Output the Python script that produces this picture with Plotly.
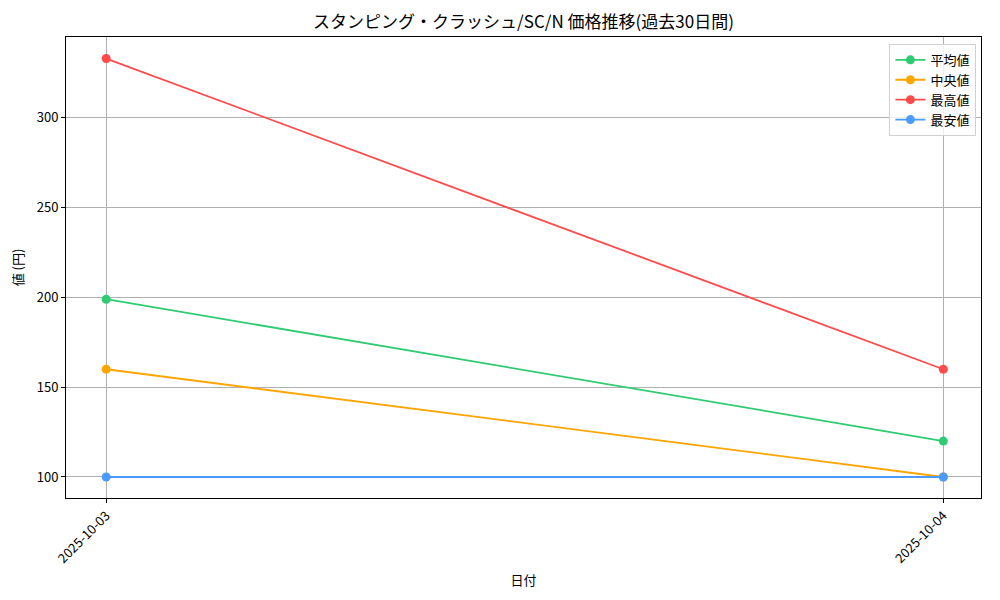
import plotly.graph_objects as go

dates = ["2025-10-03", "2025-10-04"]
avg_price = [199, 120]
median_price = [160, 100]
max_price = [333, 160]
min_price = [100, 100]

series = [
    ("平均値", avg_price, "#2ECC71"),
    ("中央値", median_price, "#FFA500"),
    ("最高値", max_price, "#FF4B4B"),
    ("最安値", min_price, "#4A9BFF"),
]

FONT = "Noto Sans CJK JP"

fig = go.Figure()
for name, vals, color in series:
    fig.add_trace(go.Scatter(
        x=[0, 1],
        y=vals,
        mode="lines+markers",
        name=name,
        line=dict(color=color, width=1.8),
        marker=dict(color=color, size=9),
    ))

axis_common = dict(
    showline=True,
    linecolor="black",
    linewidth=1,
    mirror=True,
    ticks="outside",
    ticklen=4,
    tickcolor="black",
    showgrid=True,
    gridcolor="#b0b0b0",
    gridwidth=1,
    zeroline=False,
    automargin=False,
    tickfont=dict(size=13, color="black"),
)

fig.update_xaxes(
    **axis_common,
    range=[-0.048, 1.045],
    tickvals=[0, 1],
    ticktext=dates,
    tickangle=-45,
    title=dict(text="日付", font=dict(size=13, color="black"), standoff=10),
)
fig.update_yaxes(
    **axis_common,
    range=[88.3, 345],
    tickvals=[100, 150, 200, 250, 300],
    title=dict(text="値 (円)", font=dict(size=13, color="black"), standoff=14),
)

# page body adds ~8px offset, so margins are shifted to compensate
fig.update_layout(
    width=1000,
    height=600,
    paper_bgcolor="white",
    plot_bgcolor="white",
    font=dict(family=FONT, color="black"),
    margin=dict(l=58, r=27, t=29, b=110),
    title=dict(
        text="スタンピング・クラッシュ/SC/N 価格推移(過去30日間)",
        xref="paper",
        x=0.5,
        xanchor="center",
        y=0.977,
        yanchor="middle",
        font=dict(size=17, color="black"),
    ),
    legend=dict(
        x=0.995,
        y=0.985,
        xanchor="right",
        yanchor="top",
        bgcolor="rgba(255,255,255,0.8)",
        bordercolor="#d0d0d0",
        borderwidth=1,
        font=dict(size=13),
    ),
    showlegend=True,
)

fig.write_html("out.html")
